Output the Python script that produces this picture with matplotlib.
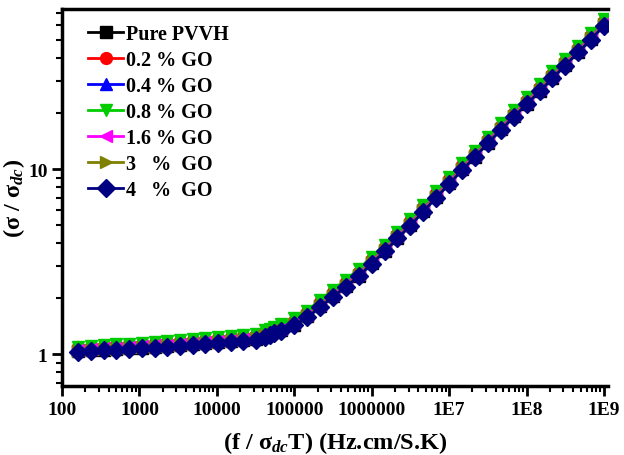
import matplotlib
matplotlib.use("Agg")
import matplotlib.pyplot as plt
from matplotlib.ticker import LogLocator, FixedLocator, FixedFormatter, NullFormatter

plt.rcParams['font.family'] = ['Liberation Serif', 'DejaVu Serif']
plt.rcParams['font.weight'] = 'bold'
plt.rcParams['mathtext.fontset'] = 'custom'
plt.rcParams['mathtext.rm'] = 'Liberation Serif:bold'
plt.rcParams['mathtext.it'] = 'Liberation Serif:italic:bold'
plt.rcParams['mathtext.bf'] = 'Liberation Serif:bold'

# scaled frequency (f / sigma_dc T)
freq = [160, 235, 345, 500, 740, 1080, 1580, 2300, 3350, 4900, 7100, 10400,
        15200, 22000, 32000, 42000, 48000, 55000, 68000, 1.0e5, 1.48e5, 2.15e5,
        3.16e5, 4.64e5, 6.8e5, 1.0e6, 1.48e6, 2.15e6, 3.16e6, 4.64e6, 6.8e6,
        1.0e7, 1.48e7, 2.15e7, 3.16e7, 4.64e7, 6.8e7, 1.0e8, 1.48e8, 2.15e8,
        3.16e8, 4.64e8, 6.8e8, 1.0e9]

pure_pvvh = [1.04, 1.05, 1.06, 1.065, 1.075, 1.085, 1.095, 1.105, 1.12, 1.13, 1.145,
             1.16, 1.175, 1.19, 1.21, 1.255, 1.28, 1.31, 1.345, 1.445, 1.60, 1.82,
             2.06, 2.34, 2.66, 3.12, 3.63, 4.26, 5.0, 5.95, 7.07, 8.4, 10.0, 11.7,
             13.9, 16.4, 19.3, 22.6, 26.6, 31.2, 36.7, 43.1, 50.6, 60.2]
go_02 = [1.09, 1.10, 1.11, 1.12, 1.13, 1.14, 1.15, 1.16, 1.175, 1.19, 1.20, 1.22,
         1.235, 1.25, 1.27, 1.32, 1.345, 1.38, 1.41, 1.52, 1.68, 1.91, 2.16, 2.46,
         2.79, 3.28, 3.81, 4.47, 5.25, 6.24, 7.42, 8.8, 10.5, 12.3, 14.6, 17.2,
         20.2, 23.7, 27.9, 32.8, 38.5, 45.3, 53.1, 63.2]
go_04 = [1.08, 1.09, 1.10, 1.11, 1.12, 1.13, 1.14, 1.15, 1.165, 1.175, 1.19, 1.21,
         1.225, 1.24, 1.26, 1.31, 1.335, 1.365, 1.40, 1.50, 1.66, 1.89, 2.14, 2.44,
         2.76, 3.24, 3.77, 4.43, 5.2, 6.18, 7.35, 8.7, 10.4, 12.2, 14.5, 17.0,
         20.1, 23.5, 27.6, 32.4, 38.1, 44.8, 52.6, 62.6]
go_08 = [1.10, 1.11, 1.12, 1.13, 1.14, 1.155, 1.165, 1.175, 1.19, 1.205, 1.22, 1.24,
         1.255, 1.27, 1.29, 1.345, 1.37, 1.41, 1.45, 1.56, 1.72, 1.96, 2.22, 2.53,
         2.87, 3.37, 3.91, 4.6, 5.4, 6.42, 7.63, 9.05, 10.8, 12.6, 15.0, 17.7,
         20.8, 24.4, 28.7, 33.7, 39.6, 46.5, 54.6, 65.0]
go_16 = [1.06, 1.07, 1.08, 1.085, 1.095, 1.105, 1.115, 1.125, 1.14, 1.155, 1.17, 1.185,
         1.2, 1.215, 1.235, 1.28, 1.31, 1.34, 1.37, 1.47, 1.63, 1.85, 2.10, 2.39,
         2.71, 3.18, 3.70, 4.35, 5.1, 6.07, 7.21, 8.55, 10.2, 11.9, 14.2, 16.7,
         19.7, 23.1, 27.1, 31.8, 37.4, 44.0, 51.6, 61.4]
go_3 = [1.045, 1.055, 1.065, 1.07, 1.08, 1.09, 1.10, 1.11, 1.125, 1.135, 1.15, 1.165,
        1.18, 1.20, 1.22, 1.265, 1.29, 1.32, 1.35, 1.45, 1.60, 1.83, 2.07, 2.35,
        2.67, 3.14, 3.64, 4.28, 5.02, 5.98, 7.1, 8.42, 10.0, 11.8, 14.0, 16.4,
        19.4, 22.7, 26.7, 31.4, 36.8, 43.3, 50.9, 60.5]
go_4 = [1.03, 1.04, 1.05, 1.055, 1.065, 1.075, 1.085, 1.095, 1.11, 1.12, 1.135, 1.15,
        1.165, 1.18, 1.20, 1.245, 1.27, 1.30, 1.33, 1.43, 1.58, 1.80, 2.04, 2.32,
        2.63, 3.09, 3.59, 4.22, 4.95, 5.89, 7.0, 8.3, 9.9, 11.6, 13.8, 16.2,
        19.1, 22.4, 26.3, 30.9, 36.3, 42.7, 50.1, 59.6]

labels = ['Pure PVVH', '0.2 % GO', '0.4 % GO', '0.8 % GO', '1.6 % GO',
          '3   %  GO', '4   %  GO']
series = [pure_pvvh, go_02, go_04, go_08, go_16, go_3, go_4]
colors = ['black', '#ff0000', '#0000ff', '#00cc00', '#ff00ff', '#808000', '#000080']
markers = ['s', 'o', '^', 'v', '<', '>', 'D']
msizes = [8, 8.5, 8.5, 8.5, 8.5, 8.5, 9]

fig = plt.figure(figsize=(6.24, 4.56), dpi=100)
ax = fig.add_axes([0.0994, 0.151, 0.875, 0.827])

for y, lab, c, m, ms in zip(series, labels, colors, markers, msizes):
    ax.plot(freq, y, color=c, marker=m, markersize=ms, linewidth=2, label=lab)

ax.set_xscale('log')
ax.set_yscale('log')
ax.set_xlim(100, 1.13e9)
ax.set_ylim(0.672, 73.3)

xt = [1e2, 1e3, 1e4, 1e5, 1e6, 1e7, 1e8, 1e9]
xl = ['100', '1000', '10000', '100000', '1000000', '1E7', '1E8', '1E9']
ax.xaxis.set_major_locator(FixedLocator(xt))
ax.xaxis.set_major_formatter(FixedFormatter(xl))
ax.xaxis.set_minor_locator(LogLocator(base=10, subs=range(2, 10)))
ax.xaxis.set_minor_formatter(NullFormatter())
ax.yaxis.set_major_locator(FixedLocator([1, 10]))
ax.yaxis.set_major_formatter(FixedFormatter(['1', '10']))
ax.yaxis.set_minor_locator(LogLocator(base=10, subs=range(2, 10)))
ax.yaxis.set_minor_formatter(NullFormatter())

ax.tick_params(which='major', direction='out', length=7, width=2, labelsize=14)
ax.tick_params(which='minor', direction='out', length=4, width=1.5)
ax.spines['right'].set_visible(False)
for s in ['left', 'bottom', 'top']:
    ax.spines[s].set_linewidth(2.5)

ax.set_xlabel('(f / σ$_{dc}$T) (Hz.cm/S.K)', fontsize=17.5, fontweight='bold', labelpad=8)
ax.set_ylabel('(σ / σ$_{dc}$)', fontsize=17.5, fontweight='bold')
ax.yaxis.set_label_coords(-0.064, 0.5)

ax.legend(loc='upper left', frameon=False, handlelength=1.75,
          handletextpad=0.15, labelspacing=0.3, borderaxespad=0.35,
          borderpad=0.4, bbox_to_anchor=(0.02, 1.0),
          prop={'weight': 'bold', 'size': 14.5})

fig.savefig('out.png', dpi=100)
